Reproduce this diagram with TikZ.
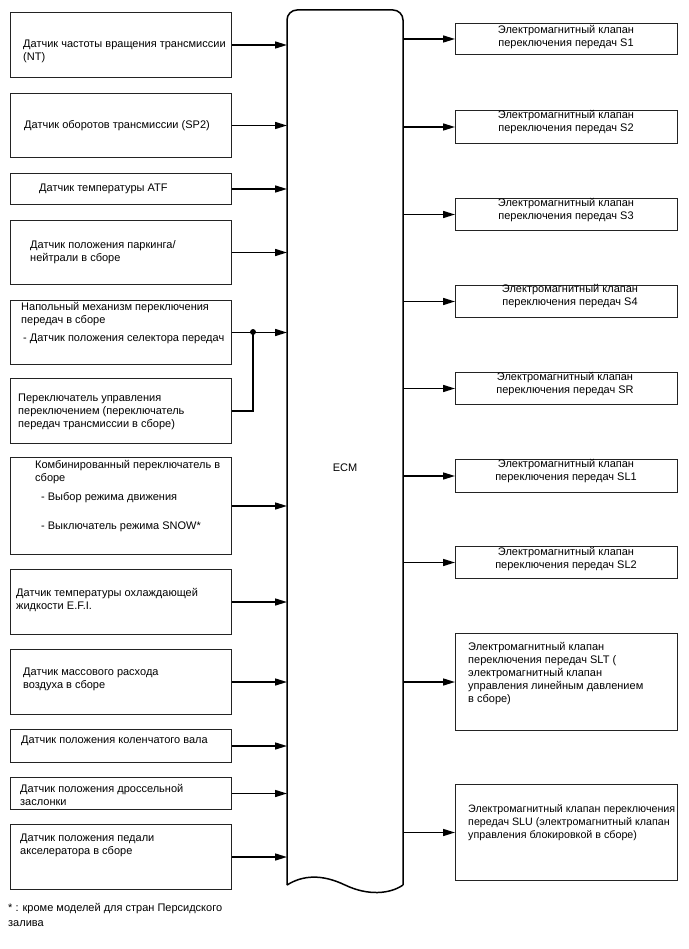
\documentclass[tikz,border=0pt]{standalone}
\usepackage{fontspec}
\setmainfont{Liberation Sans}
\usepackage{tikz}
\usetikzlibrary{arrows.meta,positioning,calc}
\definecolor{framegray}{RGB}{35,35,35}
\tikzset{
  sigarrow/.style={-{Triangle[length=12pt,width=7pt]},line width=1.5pt,draw=black},
  wire/.style={line width=1.5pt,draw=black},
  junct/.style={circle,fill=black,inner sep=2.1pt},
  ecmline/.style={line width=1.5pt,draw=black}
}

\begin{document}
\begin{tikzpicture}[
  x=1pt,y=-1pt,
  sensbox/.style={rectangle,draw=framegray,line width=1pt,anchor=north west,
    minimum width=221pt,inner sep=0pt},
  valvebox/.style={rectangle,draw=framegray,line width=1pt,anchor=north west,
    minimum width=222pt,inner sep=0pt},
  boxtext/.style={font=\fontsize{11}{13}\selectfont,align=left,anchor=north west,inner sep=0pt},
  valvetext/.style={font=\fontsize{11}{13}\selectfont,align=center,anchor=north,inner sep=0pt}
]

  \useasboundingbox (0,0) rectangle (688,949);

  % ECM block
  \coordinate (ecmNW) at (287,10);
  \coordinate (ecmSE) at (403,885);
  \draw[ecmline,rounded corners=10pt] (287,885)--(287,10)--(403,10)--(403,885);
  \draw[ecmline] (287,885) .. controls (303,875) and (322,874) .. (345,885)
    .. controls (368,896) and (390,894) .. (403,885);
  \node[font=\fontsize{11}{13}\selectfont] (ecmName) at (345,468) {ECM};

  % inputs
  \node[sensbox,minimum height=65pt] (ntSens)     at (10,12)  {};
  \node[sensbox,minimum height=64pt] (spSens)     at (10,93)  {};
  \node[sensbox,minimum height=31pt] (atfSens)    at (10,173) {};
  \node[sensbox,minimum height=64pt] (pnpSens)    at (10,220) {};
  \node[sensbox,minimum height=64pt] (floorShift) at (10,300) {};
  \node[sensbox,minimum height=65pt] (shiftSw)    at (10,378) {};
  \node[sensbox,minimum height=97pt] (comboSw)    at (10,457) {};
  \node[sensbox,minimum height=65pt] (ectSens)    at (10,569) {};
  \node[sensbox,minimum height=65pt] (mafSens)    at (10,649) {};
  \node[sensbox,minimum height=33pt] (ckpSens)    at (10,729) {};
  \node[sensbox,minimum height=32pt] (tpsSens)    at (10,777) {};
  \node[sensbox,minimum height=65pt] (appSens)    at (10,824) {};

  \node[boxtext] (ntText) at (23,40)
    {Датчик частоты вращения трансмиссии\\(NT)};
  \node[boxtext] (spText) at (24,120)
    {Датчик оборотов трансмиссии (SP2)};
  \node[boxtext] (atfText) at (39,184)
    {Датчик температуры ATF};
  \node[boxtext] (pnpText) at (30,240)
    {Датчик положения паркинга/\\нейтрали в сборе};
  \node[boxtext] (floorText) at (21,302)
    {Напольный механизм переключения\\передач в сборе\\[5pt]\hspace*{2pt}- Датчик положения селектора передач};
  \node[boxtext] (shiftText) at (18,394)
    {Переключатель управления\\переключением (переключатель\\передач трансмиссии в сборе)};
  \node[boxtext] (comboText) at (35,460)
    {Комбинированный переключатель в\\сборе\\[6pt]\hspace*{6pt}- Выбор режима движения\\[16pt]\hspace*{6pt}- Выключатель режима SNOW*};
  \node[boxtext] (ectText) at (16,588)
    {Датчик температуры охлаждающей\\жидкости E.F.I.};
  \node[boxtext] (mafText) at (23,668)
    {Датчик массового расхода\\воздуха в сборе};
  \node[boxtext] (ckpText) at (21,736)
    {Датчик положения коленчатого вала};
  \node[boxtext] (tpsText) at (20,784)
    {Датчик положения дроссельной\\заслонки};
  \node[boxtext] (appText) at (20,834)
    {Датчик положения педали\\акселератора в сборе};

  \foreach \src in {ntSens,spSens,atfSens,pnpSens,floorShift,comboSw,
                    ectSens,mafSens,ckpSens,tpsSens,appSens}
    \draw[sigarrow] (\src.east) -- (\src.east -| ecmNW);

  \coordinate (joinPt) at (253,332);
  \draw[wire] (shiftSw.east) -| (joinPt);
  \node[junct] (joinDot) at (joinPt) {};

  % outputs
  \node[valvebox,minimum height=31pt] (sOne)   at (455,23)  {};
  \node[valvebox,minimum height=33pt] (sTwo)   at (455,110) {};
  \node[valvebox,minimum height=32pt] (sThree) at (455,198) {};
  \node[valvebox,minimum height=32pt] (sFour)  at (455,285) {};
  \node[valvebox,minimum height=32pt] (sRev)   at (455,372) {};
  \node[valvebox,minimum height=33pt] (slOne)  at (455,459) {};
  \node[valvebox,minimum height=32pt] (slTwo)  at (455,546) {};
  \node[valvebox,minimum height=97pt] (slT)    at (455,633) {};
  \node[valvebox,minimum height=96pt] (slU)    at (455,784) {};

  \node[valvetext] (sOneText) at (566,25)
    {Электромагнитный клапан\\переключения передач S1};
  \node[valvetext] (sTwoText) at (566,110)
    {Электромагнитный клапан\\переключения передач S2};
  \node[valvetext] (sThreeText) at (566,198)
    {Электромагнитный клапан\\переключения передач S3};
  \node[valvetext] (sFourText) at (570,284)
    {Электромагнитный клапан\\переключения передач S4};
  \node[valvetext] (sRevText) at (565,372)
    {Электромагнитный клапан\\переключения передач SR};
  \node[valvetext] (slOneText) at (566,459)
    {Электромагнитный клапан\\переключения передач SL1};
  \node[valvetext] (slTwoText) at (566,547)
    {Электромагнитный клапан\\переключения передач SL2};
  \node[boxtext] (slTText) at (468,642)
    {Электромагнитный клапан\\переключения передач SLT (\\электромагнитный клапан\\управления линейным давлением\\в сборе)};
  \node[boxtext,font=\fontsize{10.7}{13}\selectfont] (slUText) at (468,804)
    {Электромагнитный клапан переключения\\передач SLU (электромагнитный клапан\\управления блокировкой в сборе)};

  \foreach \dst in {sOne,sTwo,sThree,sFour,sRev,slOne,slTwo,slT,slU}
    \draw[sigarrow] (\dst.west -| ecmSE) -- (\dst.west);

  % footnote
  \node[boxtext] (noteText) at (8,903)
    {* : кроме моделей для стран Персидского\\[2pt]залива};

\end{tikzpicture}
\end{document}
